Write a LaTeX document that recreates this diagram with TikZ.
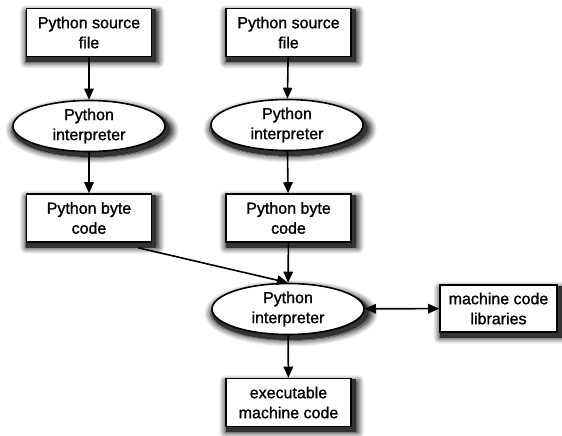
\documentclass[tikz,border=0pt]{standalone}
\usepackage{fontspec}
\setmainfont[FakeBold=1.2]{Liberation Sans}
\usetikzlibrary{arrows.meta,shapes.geometric,shadows.blur,calc}
\tikzset{
  dropshade/.style={blur shadow={shadow xshift=3pt,shadow yshift=-4pt,
      shadow blur radius=6pt,shadow blur steps=14,shadow opacity=100,
      shadow scale=1.06},
    preaction={draw=black!80,line width=5pt,
      transform canvas={xshift=2pt,yshift=-3pt}}},
  label text/.style={align=center,font=\fontsize{16}{20}\selectfont,inner sep=0pt},
  box/.style={draw,line width=1.6pt,fill=white,minimum width=125pt,
      minimum height=48pt,label text,dropshade},
  oval/.style={ellipse,draw,line width=1.6pt,fill=white,minimum width=152pt,
      minimum height=51pt,label text,dropshade},
  flow/.style={line width=1.6pt,-{Triangle[length=11pt,width=9.5pt]}},
  both ways/.style={line width=1.6pt,{Triangle[length=11pt,width=9.5pt]}-{Triangle[length=11pt,width=9.5pt]}}
}
\begin{document}
\begin{tikzpicture}[x=1pt,y=-1pt]
  \useasboundingbox (0,0) rectangle (562,436);

  % left chain: source, interpreter, byte code
  \node[box]  (src1) at (89,32.5)  {Python source\\file};
  \node[oval] (int1) at (89,126)   {Python\\interpreter};
  \node[box]  (bc1)  at (89,218)   {Python byte\\code};

  % right chain: source, interpreter, byte code
  \node[box]  (src2) at (288.5,32.5) {Python source\\file};
  \node[oval] (int2) at (287,125)    {Python\\interpreter};
  \node[box]  (bc2)  at (288.5,218)  {Python byte\\code};

  % shared interpreter, output and libraries
  \node[oval] (int3) at (288,309)  {Python\\interpreter};
  \node[box]  (exe)  at (288.5,402.5) {executable\\machine code};
  \node[box,minimum width=117pt,minimum height=47pt] (lib) at (498.5,308.5)
      {machine code\\libraries};

  % connectors
  \draw[flow] (src1) -- (int1);
  \draw[flow] (int1) -- (bc1);
  \draw[flow] (src2) -- (int2);
  \draw[flow] (int2) -- (bc2);
  \draw[flow] (bc2) -- (int3);
  \draw[flow] ($(bc1.south east)+(-14,5)$) -- (int3.north);
  \draw[flow] (int3) -- (exe);
  \draw[both ways] (int3) -- (lib);
\end{tikzpicture}
\end{document}
